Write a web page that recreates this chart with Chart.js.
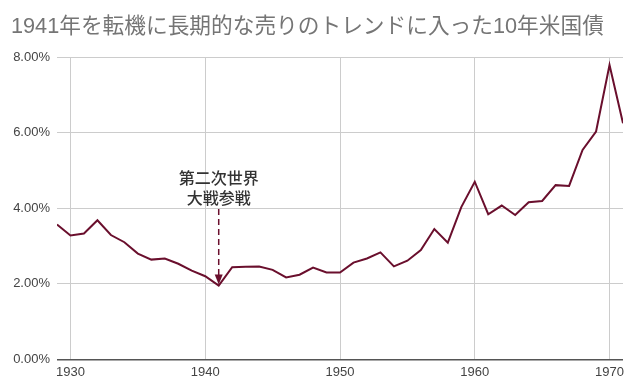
<!DOCTYPE html>
<html>
<head>
<meta charset="utf-8">
<script src="https://cdn.jsdelivr.net/npm/chart.js@4"></script>
<style>
  html, body { margin: 0; padding: 0; background: #fff; }
  #wrap { width: 640px; height: 388px; }
</style>
</head>
<body>
<div id="wrap"><canvas id="yieldChart"></canvas></div>
<script>
// 10年米国債利回り (年次)
const years = [1929, 1930, 1931, 1932, 1933, 1934, 1935, 1936, 1937, 1938,
  1939, 1940, 1941, 1942, 1943, 1944, 1945, 1946, 1947, 1948,
  1949, 1950, 1951, 1952, 1953, 1954, 1955, 1956, 1957, 1958,
  1959, 1960, 1961, 1962, 1963, 1964, 1965, 1966, 1967, 1968,
  1969, 1970, 1971];
const yields = [3.57, 3.28, 3.33, 3.68, 3.29, 3.10, 2.80, 2.64, 2.67, 2.53,
  2.35, 2.20, 1.95, 2.44, 2.45, 2.46, 2.37, 2.17, 2.24, 2.43,
  2.30, 2.30, 2.56, 2.67, 2.83, 2.46, 2.61, 2.89, 3.45, 3.09,
  4.03, 4.70, 3.84, 4.07, 3.82, 4.16, 4.19, 4.61, 4.59, 5.54,
  6.03, 7.79, 6.25];
const xTicks = [1930, 1940, 1950, 1960, 1970];
const yTicks = [0, 2, 4, 6, 8];

const titleText = "1941年を転機に長期的な売りのトレンドに入った10年米国債";
const noteLines = ["第二次世界", "大戦参戦"];
const noteYear = 1941;

const lineColor = "#6a0f2d";
const fontFamily = "'Liberation Sans', 'Noto Sans CJK JP', sans-serif";

const points = years.map((y, i) => ({ x: y, y: yields[i] }));

// タイトルと注釈
const extras = {
  id: "extras",
  afterDraw(chart) {
    const ctx = chart.ctx;
    const xs = chart.scales.x;
    const ys = chart.scales.y;
    ctx.save();
    ctx.fillStyle = "#757575";
    ctx.font = "21.7px " + fontFamily;
    ctx.textBaseline = "alphabetic";
    ctx.textAlign = "left";
    ctx.fillText(titleText, 11, 33);

    const x = xs.getPixelForValue(noteYear);
    ctx.fillStyle = "#333";
    ctx.font = "500 16px 'Noto Sans CJK JP', sans-serif";
    ctx.textAlign = "center";
    ctx.textBaseline = "middle";
    ctx.fillText(noteLines[0], x, 178);
    ctx.fillText(noteLines[1], x, 198);

    const yTip = ys.getPixelForValue(1.98);
    ctx.strokeStyle = lineColor;
    ctx.lineWidth = 1.5;
    ctx.setLineDash([6, 4]);
    ctx.beginPath();
    ctx.moveTo(x, 209);
    ctx.lineTo(x, yTip - 8);
    ctx.stroke();
    ctx.setLineDash([]);
    ctx.fillStyle = lineColor;
    ctx.beginPath();
    ctx.moveTo(x - 4, yTip - 10);
    ctx.lineTo(x + 4, yTip - 10);
    ctx.lineTo(x, yTip);
    ctx.closePath();
    ctx.fill();
    ctx.restore();
  }
};

new Chart(document.getElementById("yieldChart"), {
  type: "line",
  data: {
    datasets: [{
      data: points,
      borderColor: lineColor,
      borderWidth: 2,
      pointRadius: 0,
      tension: 0,
      fill: false
    }]
  },
  options: {
    responsive: true,
    maintainAspectRatio: false,
    animation: false,
    layout: { padding: { top: 57, right: 17, left: 0, bottom: 3 } },
    plugins: {
      legend: { display: false },
      tooltip: { enabled: false }
    },
    scales: {
      x: {
        type: "linear",
        min: 1929,
        max: 1971,
        afterBuildTicks(scale) { scale.ticks = xTicks.map(v => ({ value: v })); },
        grid: { color: "#cccccc", drawTicks: false, lineWidth: 1 },
        border: { display: false },
        ticks: {
          color: "#444",
          font: { family: fontFamily, size: 13 },
          padding: 5,
          maxRotation: 0,
          callback: v => String(v)
        }
      },
      y: {
        min: 0,
        max: 8,
        afterBuildTicks(scale) { scale.ticks = yTicks.map(v => ({ value: v })); },
        afterFit(scale) { scale.width = 57; },
        grid: {
          color: ctx => ctx.tick.value === 0 ? "#555555" : "#cccccc",
          lineWidth: ctx => ctx.tick.value === 0 ? 1.5 : 1,
          drawTicks: false
        },
        border: { display: false },
        ticks: {
          color: "#444",
          font: { family: fontFamily, size: 13 },
          padding: 7,
          callback: v => v.toFixed(2) + "%"
        }
      }
    }
  },
  plugins: [extras]
});
</script>
</body>
</html>
